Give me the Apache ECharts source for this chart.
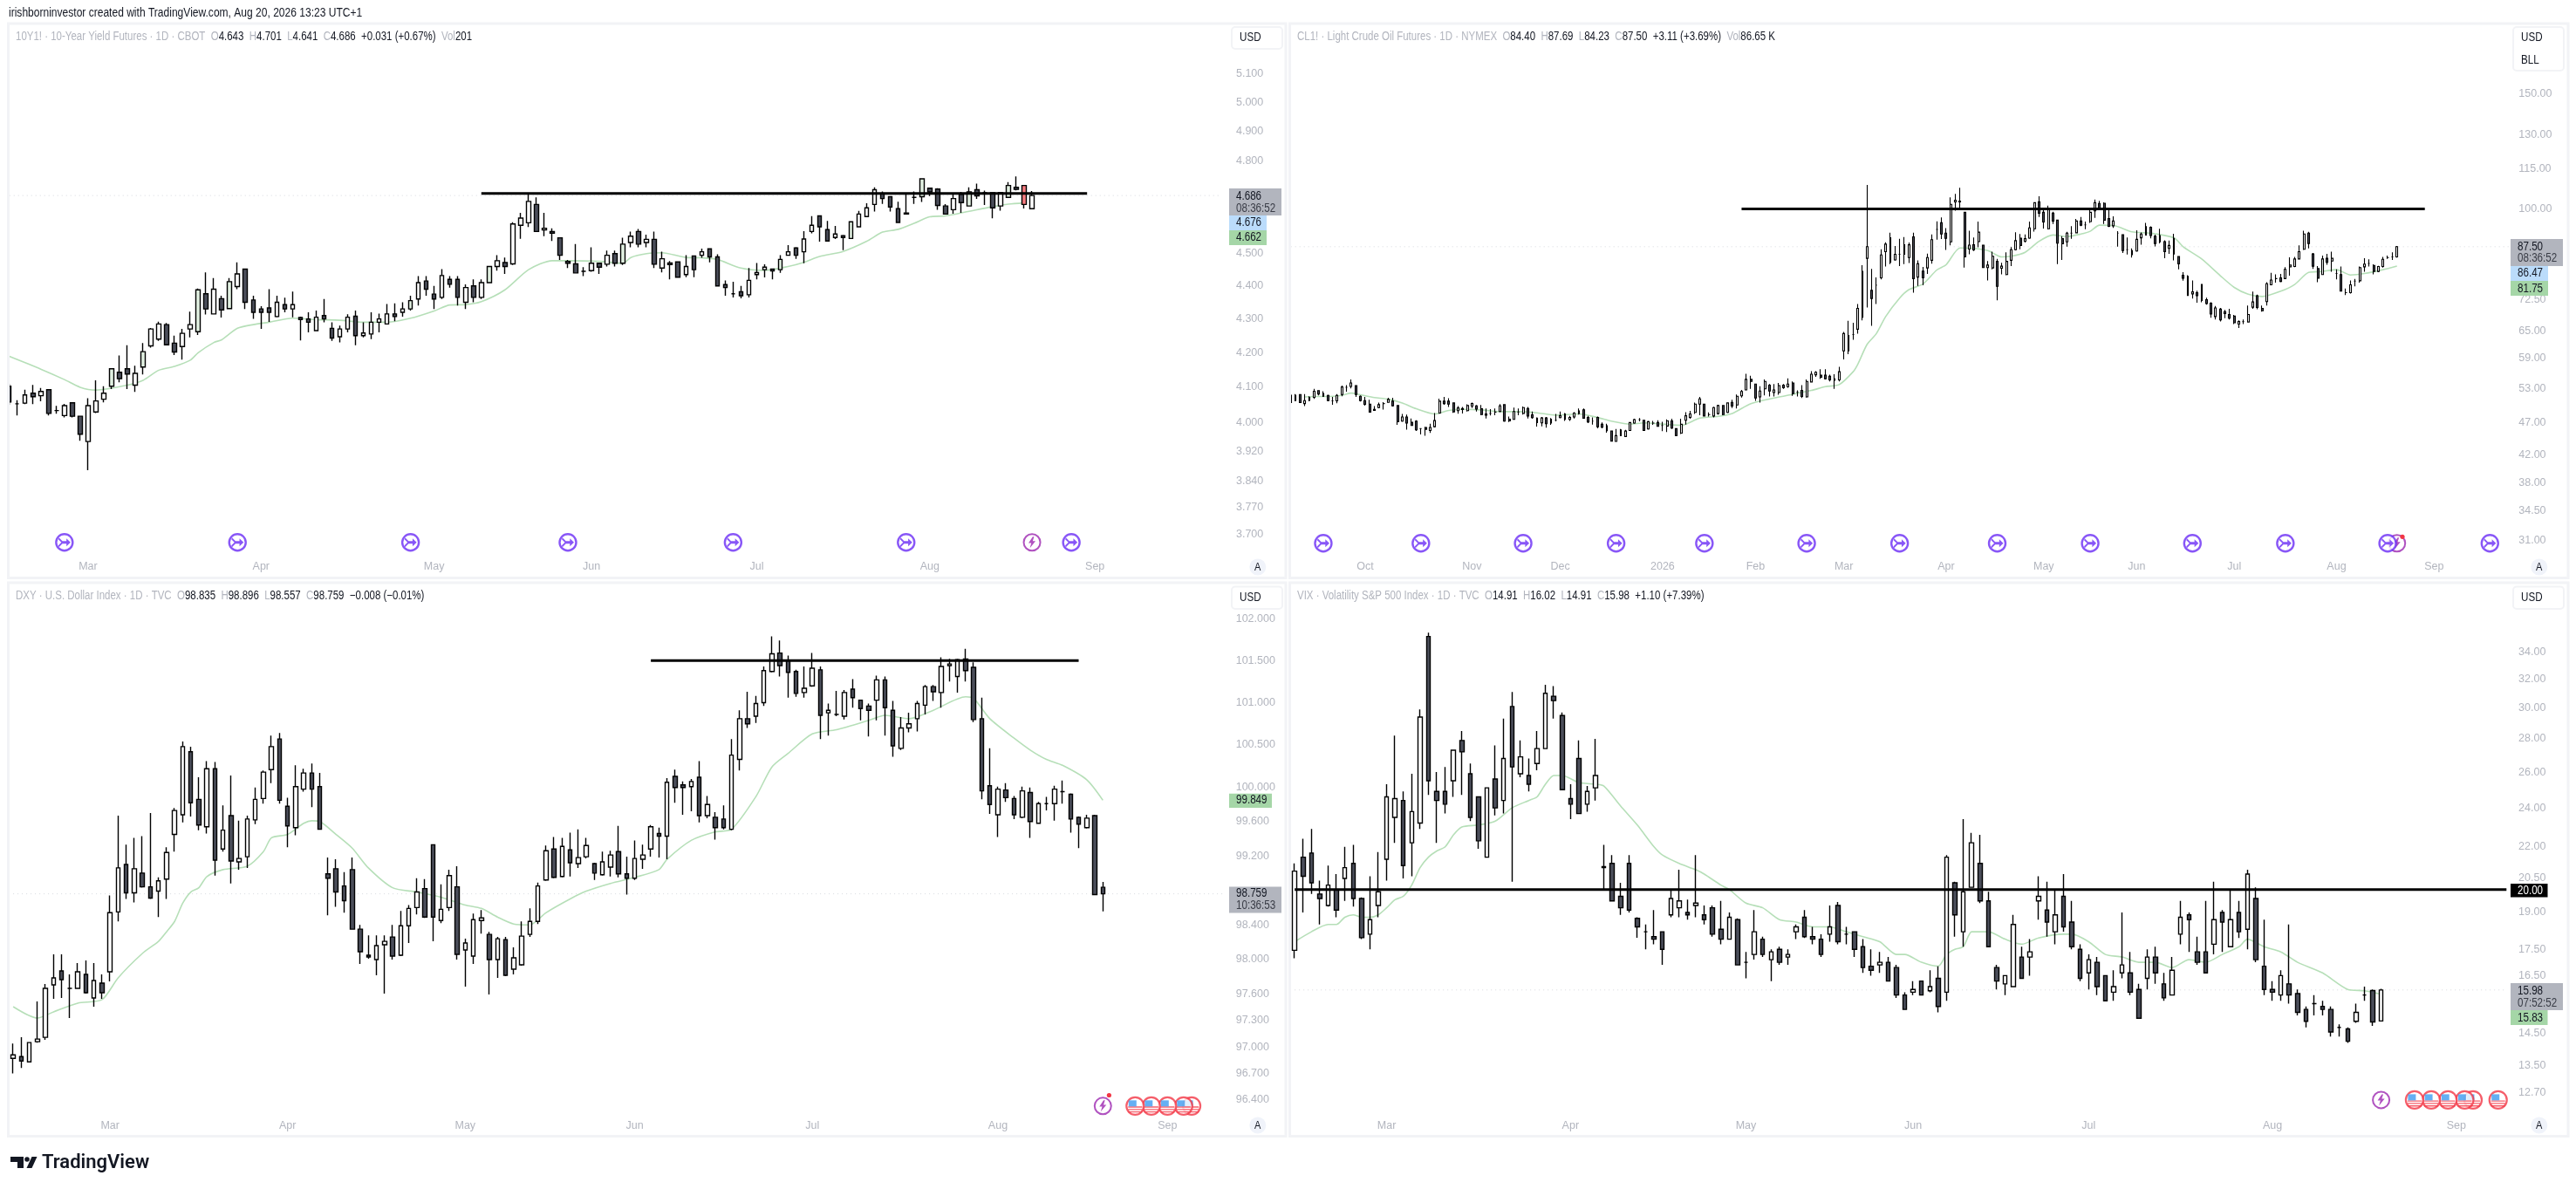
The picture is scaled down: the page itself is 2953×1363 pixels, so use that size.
<!DOCTYPE html>
<html><head><meta charset="utf-8">
<style>html,body{margin:0;padding:0;background:#fff}#c{width:2953px;height:1363px}</style>
<script src="https://cdn.jsdelivr.net/npm/echarts@6/dist/echarts.min.js"></script>
</head><body><div id="c"></div>
<script>
// ---------- values are [open, close, low, high] ----------
const yieldCandles=[[4.103,4.058,4.05,4.11],[4.053,4.053,4.02,4.063],[4.055,4.078,4.052,4.093],[4.083,4.073,4.052,4.107],[4.076,4.088,4.06,4.098],[4.093,4.026,4.02,4.094],[4.034,4.034,4.025,4.047],[4.02,4.048,4.015,4.053],[4.056,4.018,4.015,4.057],[4.018,3.968,3.95,4.018],
[3.948,4.048,3.87,4.069],[4.03,4.061,4.027,4.12],[4.066,4.083,4.057,4.103],[4.103,4.153,4.095,4.153],[4.143,4.125,4.114,4.192],[4.153,4.138,4.095,4.222],[4.106,4.14,4.087,4.162],[4.158,4.203,4.137,4.228],[4.22,4.27,4.215,4.273],[4.24,4.285,4.235,4.292],
[4.283,4.223,4.223,4.288],[4.228,4.202,4.193,4.25],[4.218,4.257,4.18,4.27],[4.27,4.283,4.245,4.322],[4.262,4.388,4.252,4.392],[4.376,4.33,4.313,4.442],[4.315,4.39,4.315,4.424],[4.361,4.327,4.304,4.37],[4.331,4.413,4.331,4.424],[4.398,4.437,4.39,4.473],
[4.452,4.35,4.33,4.452],[4.357,4.32,4.3,4.37],[4.33,4.32,4.27,4.338],[4.333,4.32,4.291,4.39],[4.307,4.35,4.305,4.37],[4.343,4.33,4.32,4.364],[4.33,4.343,4.305,4.383],[4.304,4.298,4.236,4.307],[4.3,4.29,4.26,4.32],[4.265,4.305,4.265,4.325],
[4.31,4.3,4.29,4.36],[4.272,4.243,4.235,4.29],[4.247,4.27,4.23,4.28],[4.27,4.305,4.26,4.314],[4.308,4.25,4.222,4.325],[4.25,4.258,4.245,4.29],[4.255,4.29,4.24,4.32],[4.29,4.3,4.26,4.316],[4.285,4.315,4.283,4.345],[4.315,4.307,4.293,4.347],
[4.32,4.33,4.307,4.35],[4.33,4.355,4.325,4.37],[4.36,4.41,4.34,4.43],[4.415,4.39,4.37,4.43],[4.375,4.36,4.33,4.4],[4.365,4.432,4.36,4.452],[4.42,4.405,4.395,4.43],[4.42,4.365,4.34,4.43],[4.35,4.395,4.33,4.405],[4.4,4.365,4.35,4.42],
[4.365,4.41,4.36,4.42],[4.41,4.46,4.41,4.46],[4.46,4.478,4.447,4.495],[4.472,4.46,4.437,4.488],[4.468,4.594,4.465,4.6],[4.59,4.613,4.547,4.63],[4.598,4.667,4.584,4.69],[4.657,4.57,4.57,4.68],[4.575,4.58,4.555,4.63],[4.57,4.565,4.54,4.58],
[4.55,4.495,4.48,4.55],[4.476,4.47,4.455,4.48],[4.468,4.44,4.44,4.53],[4.445,4.445,4.43,4.458],[4.447,4.47,4.444,4.52],[4.47,4.458,4.437,4.47],[4.467,4.495,4.46,4.51],[4.5,4.47,4.46,4.51],[4.47,4.53,4.465,4.55],[4.535,4.555,4.52,4.57],
[4.57,4.53,4.52,4.578],[4.535,4.545,4.52,4.56],[4.545,4.467,4.455,4.57],[4.455,4.484,4.442,4.506],[4.471,4.466,4.42,4.477],[4.474,4.427,4.425,4.476],[4.435,4.46,4.427,4.495],[4.493,4.45,4.427,4.493],[4.495,4.506,4.487,4.516],[4.515,4.49,4.473,4.515],
[4.49,4.4,4.4,4.498],[4.404,4.395,4.37,4.417],[4.376,4.376,4.365,4.413],[4.382,4.37,4.362,4.4],[4.373,4.417,4.365,4.455],[4.435,4.441,4.42,4.471],[4.45,4.458,4.426,4.467],[4.452,4.446,4.42,4.454],[4.45,4.482,4.44,4.495],[4.495,4.506,4.494,4.527],
[4.518,4.495,4.484,4.521],[4.506,4.546,4.47,4.571],[4.57,4.59,4.564,4.619],[4.62,4.585,4.538,4.62],[4.576,4.54,4.538,4.604],[4.551,4.562,4.546,4.588],[4.557,4.551,4.511,4.559],[4.548,4.601,4.548,4.603],[4.585,4.626,4.583,4.636],[4.618,4.646,4.618,4.661],
[4.657,4.705,4.634,4.713],[4.692,4.676,4.659,4.699],[4.682,4.649,4.634,4.682],[4.643,4.599,4.599,4.666],[4.629,4.626,4.626,4.692],[4.68,4.68,4.659,4.699],[4.682,4.741,4.665,4.741],[4.71,4.698,4.684,4.71],[4.707,4.654,4.64,4.71],[4.652,4.626,4.624,4.658],
[4.64,4.676,4.627,4.689],[4.69,4.663,4.63,4.698],[4.652,4.698,4.652,4.713],[4.705,4.685,4.675,4.725],[4.695,4.695,4.655,4.702],[4.695,4.646,4.612,4.695],[4.652,4.696,4.637,4.698],[4.68,4.719,4.68,4.73],[4.713,4.706,4.703,4.749],[4.719,4.657,4.644,4.72],[4.643,4.686,4.641,4.701]];
const yieldGreenBars=[13,17,24,28,51,61,78,98,107,116,122,127];
const yieldRedBars=[129];
const yieldAverage=[[0,4.189],[4,4.152],[7,4.122],[9,4.1],[11,4.092],[15,4.106],[17,4.12],[19,4.149],[21,4.16],[23,4.178],[24,4.2],[26,4.23],[27,4.238],[29,4.272],[31,4.283],[33,4.29],[36,4.302],[39,4.298],[42,4.296],[45,4.29],[48,4.29],[51,4.302],[54,4.324],[56,4.342],[58,4.343],[60,4.352],[63,4.388],[66,4.45],[69,4.478],[71,4.478],[75,4.476],[78,4.47],[79,4.488],[81,4.5],[83,4.503],[86,4.488],[88,4.487],[90,4.482],[93,4.455],[96,4.448],[99,4.46],[101,4.473],[103,4.491],[106,4.507],[109,4.539],[111,4.568],[113,4.577],[115,4.596],[117,4.617],[119,4.62],[122,4.635],[125,4.65],[127,4.658],[129,4.662]];
const yieldTrend=[[60,4.693],[137,4.693]];
const yieldTicks=[5.1,5.0,4.9,4.8,4.5,4.4,4.3,4.2,4.1,4.0,3.92,3.84,3.77,3.7];
const yieldMonths=[[10,'Mar'],[32,'Apr'],[54,'May'],[74,'Jun'],[95,'Jul'],[117,'Aug'],[138,'Sep']];
const yieldEvents=[7,29,51,71,92,114,135];
const yieldBolts=[130];
const yieldFlags=[];

const crudeCandles=[[50.5,51.8,50.4,52],[50.84,51.8,50.74,52.04],[51.94,50.48,50.4,51.98],[50.32,50.84,49.86,52.04],[50.9,51.42,50.74,51.62],[51.42,52.56,51.16,52.98],[52.66,52.04,51.78,52.77],[52.14,51.62,51.52,52.56],[51.78,50.84,50.74,51.9],[50.79,50.79,50.12,51.52],
[50.79,51.78,50.38,52.04],[51.94,53.34,51.62,53.6],[53.29,53.29,52.46,53.7],[53.44,54.12,53.08,54.8],[53.6,51.94,51.52,53.7],[51.62,50.84,50.69,51.78],[50.84,50.17,49.96,51.52],[50.22,48.82,48.76,51],[49.28,49.13,49.08,49.86],[49.6,50.12,49.49,50.48],
[50.32,50.32,49.28,50.58],[50.53,51.05,50.48,51.36],[50.74,49.91,49.8,51.36],[49.96,47.2,46.67,49.96],[47.3,48,47.2,48.5],[48,46.96,45.9,48.4],[47.1,46.58,46.5,47.75],[47.3,45.86,45.7,47.44],[46.05,46.05,45.14,46.14],[46.24,45.95,44.9,46.34],
[45.76,46.24,45.38,46.86],[46.38,47.39,46.24,48.64],[48.66,50.74,48.56,51.2],[50.74,50.32,50.12,51.52],[50.74,50.22,49.7,51.26],[50.43,48.87,48.7,50.48],[49.08,49.54,48.56,49.86],[49.44,49.28,48.6,49.7],[49.08,49.96,48.92,50.17],[49.86,50.32,49.54,50.48],
[49.91,49.34,48.92,50.06],[49.39,48.4,48.3,50.06],[48.5,48.3,47.73,49.44],[48.6,48.6,48.25,49.34],[48.82,48.82,48.3,49.44],[48.92,49.91,48.82,50.22],[50.12,47.3,47.2,50.2],[47.63,47.34,47.15,48.06],[47.58,48.92,47.54,49.6],[48.82,48.82,48.3,49.44],
[48.6,49.6,48.4,49.8],[49.44,48.16,47.73,49.7],[48.35,47.87,47.68,48.92],[47.78,47.06,46.38,47.92],[47,47.82,46.43,48],[47.82,46.86,46.2,48],[46.96,47.63,46.67,47.82],[47.44,47.44,47.25,48.5],[47.87,48.2,47.78,48.92],[48.5,47.58,47.34,48.66],
[47.58,47.92,47.34,48.16],[48,48.66,47.73,48.82],[48.56,49.02,48.4,49.44],[49.23,47.78,47.7,49.44],[47.92,47.15,46.96,48.16],[47.3,47.3,46.72,47.92],[47.92,46.38,46.1,48.06],[46.77,46.29,46.1,47.06],[46.53,45.71,45.42,46.86],[45.66,44.08,44,45.7],
[44.03,44.94,43.95,46],[45.86,44.94,44.85,46],[44.8,45.66,44.7,45.86],[45.76,47.06,45.7,47.1],[46.96,47.54,46.86,47.68],[47.54,47.54,47.25,47.82],[47.44,45.76,45.7,47.5],[46,47.2,45.9,47.34],[46.96,46.96,46.67,47.34],[47.06,46.43,46.34,47.44],
[46.58,46.58,45.66,47.2],[46.48,47.34,45.52,47.58],[47.34,46.14,46,47.68],[46.05,44.94,44.85,46.1],[45.33,46.77,45.18,47.68],[47.44,48.2,46.72,48.82],[47.92,48.5,47.68,49.02],[48.76,50.22,48.5,50.48],[50.22,51.16,48.3,51.52],[50.22,48.16,48.1,50.3],
[48.4,48.4,48.06,48.76],[48.16,49.6,47.92,49.75],[48.56,49.96,48.4,50.12],[49.96,48.4,48.3,50.06],[48.76,50.43,48.66,50.48],[50.53,49.86,49.54,51],[50.06,51.62,49.44,51.94],[51.7,52.5,51.4,52.8],[52.8,54.8,52.7,55.9],[54.8,54.4,53,55.5],
[53.9,51.3,50.8,54],[51.5,52.6,50.5,53.5],[53,54.4,51.8,54.8],[53.7,52.6,51.6,53.9],[52.3,52.8,51.6,53.9],[52.3,53.6,51.9,54.1],[53.7,53.2,53,53.9],[53.4,53.9,53.2,55],[54.1,52.1,51.7,54.4],[52.4,52.4,51.6,52.7],
[52.7,51.6,51.3,53.7],[51.5,54.4,51.4,54.8],[54.3,55.8,54.2,56.4],[55.7,56.2,55.3,56.4],[55.6,55.2,54.9,56.8],[55.6,54.9,54.8,56.8],[55.4,54.7,54.4,55.7],[54.9,54.6,53,55.8],[54.7,56.3,54.4,57.3],[60.6,64.4,58.8,64.8],
[60.6,64,59.9,67.4],[64.2,64.2,63,66.9],[65.4,70.4,64.4,71.5],[68.2,80.2,67.5,82],[84,87.5,70.6,108.8],[75,72.9,66.2,80.9],[76.4,76.4,71.5,78.5],[78.4,85,78,86.7],[86,88.3,81.6,88.9],[90.3,82.8,82.3,91.9],
[83.5,85.2,83.3,87.7],[85.2,85.2,81.7,90],[85.2,88.1,82.3,90.5],[84.2,88.1,82.6,88.8],[90.6,78.2,74.4,91.9],[78.6,82.4,76.2,83.4],[80.3,78.4,76.4,81.5],[81.2,84.2,79.5,85.4],[83.4,89.7,82.4,91.4],[93,93,89.7,95.7],
[95.2,91.5,89.9,97],[91.8,90.1,86.5,93.4],[89,101.6,87.9,104.1],[102.5,103.1,99.4,105.4],[102.8,102.5,99.7,107.7],[98.8,84.4,81.3,99],[86.8,88,85.2,92.6],[88.1,86.5,86.2,90.4],[89.1,92.1,87.3,95.6],[88,81.3,81.3,88],
[81.3,82,77.7,83.2],[81.2,84.6,80.8,86],[83.1,76.1,72.4,83.8],[81.1,81.7,79.4,82.7],[79.3,83.1,79.1,85.8],[83.4,86.6,81.7,87.4],[86.6,89.4,86.4,92.1],[90.2,87.9,86.7,91.5],[89.2,90,88.8,91.4],[90.2,93.5,90,95.6],
[93.2,102.2,92.3,102.4],[102.5,98.5,97.2,104.5],[98.8,95.5,93.3,99.6],[93.2,100,93,101.1],[98.5,95.8,94.8,99],[96.1,88.6,82.3,96.3],[90,88.4,83.5,90.8],[89,91.8,87.5,92.2],[91.8,91.8,90,94.1],[91.9,95.8,91.7,96.5],
[95.8,94.4,94.1,97.2],[94.5,94.5,93.1,95.6],[95.6,98.8,95.2,99.6],[99.3,102.2,96.9,103.3],[101.9,100.2,100,102.9],[102,96.1,94.8,102.3],[96.6,94,93.8,99.8],[94.2,95.8,93.5,97.4],[91.8,91.8,87.5,92.4],[91.3,86.3,85.6,91.3],
[86.6,86.6,85.1,90.4],[86.3,85.1,84.2,87],[86.2,89.8,86,92.7],[90.3,91.5,88.1,92],[91.2,93.9,91.1,95.2],[93.7,91,90.1,94],[90.8,88.5,87.6,91.3],[89,91,88.5,93.2],[89.1,86,84,89.5],[87,87.9,85.3,89.4],
[90.1,85.3,83.4,91.6],[84.5,82.4,80.8,84.7],[79.1,78.3,77.6,80],[78.8,73.7,73.6,79.1],[74.1,74.6,72.9,77.7],[74.4,73.6,71.8,74.9],[76.6,72.4,71.9,76.7],[72.6,71.6,71.3,73.1],[71.7,69,68.1,71.9],[68.4,70.5,67.7,71],
[70.2,67.6,67.2,70.5],[69.6,69.1,68,70],[68.9,68,67.7,70.3],[68.5,66.9,66.6,68.8],[66.6,67.2,65.7,67.5],[67.2,67.2,66.6,67.7],[67.1,68.9,67,71.1],[70.7,72,70.3,74.7],[73.6,70.6,70.2,73.9],[70.4,69.8,69.6,71.1],
[72.1,76.8,71.1,77.2],[76.5,77.8,76.4,79.8],[78.2,78.2,77.1,79.4],[78.4,77.4,77.2,79.5],[78.2,80.8,78.1,81.4],[81.5,82,79,84.3],[81.6,83.8,81.4,84.4],[83.8,86,83.7,87.9],[86.7,91.5,86.5,92.6],[91.8,88.5,87,92.2],
[85.3,81.7,80.9,85.6],[81,78.3,77.2,81.7],[79.3,83.8,79.2,84.8],[84,82.8,82.1,85.3],[83.2,84,80.1,86],[79.6,79.6,78,80.8],[79.3,74.8,74.7,81.6],[74.4,74.4,73.8,75.5],[74.4,76.5,74.2,77.7],[77.5,77.5,76.1,78.1],
[77.6,81.3,77.1,81.6],[81.5,82.3,80.1,84],[82.5,82.5,81.6,83.7],[81.9,80.2,79.4,82.2],[80.2,81.6,80,81.8],[81.6,83.7,81.3,84.4],[84.2,84.2,83.8,84.8],[84.4,84.4,83.5,85.8],[84.4,87.5,84.23,87.69]];
const crudeAverage=[[3,51.5],[5,51.6],[8,51.6],[11,51.8],[13,52.2],[15,51.9],[18,51.4],[21,51.1],[24,50.4],[27,49.4],[31,48.5],[34,49.1],[37,49.3],[41,49.2],[45,48.9],[49,48.9],[53,48.7],[57,48.3],[62,48.5],[66,47.9],[69,47.3],[73,46.8],[76,47],[80,46.8],[84,46.6],[88,47.8],[92,48.1],[95,48.6],[99,50.3],[104,51.3],[108,52],[112,52.7],[115,53.4],[118,53.8],[121,56.3],[122,57.8],[124,62],[126,64.4],[128,68.4],[131,73],[133,75.2],[136,76.7],[139,80.6],[141,82.1],[144,87.1],[147,87],[150,86.3],[153,84.4],[155,84.6],[158,85.8],[161,89.2],[164,91.2],[167,90.7],[170,91.5],[172,92.4],[174,94.4],[177,94.3],[181,92.2],[185,91.8],[190,90.3],[192,87.5],[196,83.8],[200,79],[203,75.8],[206,74],[209,73.4],[213,74.8],[216,76.6],[219,79.9],[222,80.2],[225,80.7],[228,79.2],[231,79.6],[235,80.7],[238,81.75]];
const crudeTrend=[[97,100],[244,100]];
const crudeTicks=[150,130,115,100,72.5,65,59,53,47,42,38,34.5,31];
const crudeMonths=[[16,'Oct'],[39,'Nov'],[58,'Dec'],[80,'2026'],[100,'Feb'],[119,'Mar'],[141,'Apr'],[162,'May'],[182,'Jun'],[203,'Jul'],[225,'Aug'],[246,'Sep']];
const crudeEvents=[7,28,50,70,89,111,131,152,172,194,214,236,258];
const crudeBolts=[238];
const crudeFlags=[];

const dollarCandles=[[96.87,96.91,96.7,97.04],[96.89,96.84,96.76,97.11],[96.83,97.05,96.83,97.05],[97.06,97.09,97.05,97.52],[97.11,97.67,97.08,97.72],[97.71,97.79,97.55,98.06],[97.87,97.77,97.56,98.06],[97.67,97.67,97.33,97.83],[97.67,97.86,97.67,97.96],[97.83,97.62,97.61,97.99],
[97.56,97.76,97.46,97.96],[97.73,97.62,97.55,97.83],[97.86,98.54,97.75,98.74],[98.55,99.06,98.44,99.67],[99.1,98.77,98.7,99.33],[98.77,99.05,98.66,99.41],[99,98.84,98.83,99.43],[98.84,98.71,98.7,99.7],[98.79,98.91,98.49,98.95],[98.93,99.24,98.7,99.3],
[99.45,99.73,99.25,99.76],[99.68,100.48,99.59,100.54],[100.42,99.82,99.66,100.48],[99.86,99.56,99.5,100.12],[99.54,100.22,99.46,100.31],[100.22,99.15,98.97,100.3],[99.28,99.5,99.25,99.79],[99.67,99.14,98.88,100.14],[99.13,99.17,99.04,99.61],[99.19,99.63,99.06,99.67],
[99.62,99.86,99.57,100],[99.87,100.18,99.81,100.2],[100.21,100.48,100.05,100.61],[100.57,99.85,99.81,100.64],[99.78,99.55,99.3,99.88],[99.53,100.01,99.44,100.26],[99.98,100.17,99.95,100.22],[100.17,99.98,99.77,100.28],[100.01,99.51,99.51,100.17],[98.99,98.94,98.51,99.18],
[99.05,98.78,98.61,99.16],[98.85,98.68,98.54,99.01],[99.04,98.35,98.35,99.18],[98.35,98.09,97.95,98.4],[98.05,98.03,98.01,98.28],[98,98.16,97.82,98.28],[98.17,98.21,97.61,98.28],[98.26,98.04,98,98.4],[98.05,98.39,98.04,98.56],[98.39,98.59,98.19,98.63],
[98.6,98.78,98.52,98.94],[98.82,98.49,98.48,98.93],[99.33,98.49,98.21,99.33],[98.45,98.58,98.42,98.87],[98.6,98.97,98.56,99.04],[98.84,98.06,98,99.08],[98.11,98.19,97.69,98.24],[98.04,98.46,97.95,98.53],[98.45,98.48,98.3,98.57],[98.29,98,97.6,98.32],
[98,98.24,97.79,98.26],[98.23,97.82,97.81,98.26],[97.89,98.02,97.83,98.14],[97.94,98.27,97.93,98.44],[98.29,98.44,98.26,98.59],[98.44,98.85,98.41,98.89],[98.92,99.26,98.91,99.32],[99.28,98.95,98.94,99.42],[98.96,99.31,98.95,99.41],[99.27,99.12,98.96,99.47],
[99.11,99.18,99.06,99.51],[99.19,99.32,99.17,99.41],[99.11,99,98.92,99.12],[98.98,99.13,98.97,99.25],[99.07,99.21,98.96,99.26],[99.25,98.99,98.95,99.55],[98.99,98.94,98.75,99.19],[98.94,99.17,98.92,99.38],[99.16,99.21,99.05,99.33],[99.28,99.54,99.19,99.56],
[99.46,99.43,99.18,99.53],[99.43,100.06,99.16,100.11],[100.13,100,99.82,100.21],[100.03,100,99.68,100.07],[100.01,100.07,99.72,100.1],[100.12,99.67,99.59,100.31],[99.67,99.8,99.64,99.9],[99.65,99.53,99.39,99.71],[99.63,99.53,99.51,99.79],[99.51,100.38,99.5,100.57],
[100.33,100.81,100.2,100.91],[100.81,100.75,100.7,101.13],[100.84,100.99,100.76,101.08],[101,101.38,100.96,101.43],[101.37,101.58,101.36,101.79],[101.59,101.44,101.31,101.74],[101.5,101.36,101.06,101.56],[101.37,101.11,101.07,101.39],[101.12,101.17,101.06,101.43],[101.2,101.41,101.19,101.59],
[101.39,100.85,100.57,101.43],[100.88,100.91,100.61,100.99],[100.86,100.86,100.84,101.14],[100.84,101.12,100.8,101.15],[101.16,101.06,100.94,101.28],[101.03,100.93,100.79,101.03],[100.96,100.91,100.6,100.99],[101.03,101.27,100.79,101.32],[101.27,100.94,100.61,101.31],[100.91,100.49,100.36,101.02],
[100.46,100.7,100.44,100.83],[100.7,100.75,100.65,100.88],[100.81,100.99,100.66,101.02],[100.97,101.19,100.86,101.21],[101.19,101.13,101.02,101.21],[101.12,101.43,100.94,101.54],[101.44,101.46,101.25,101.52],[101.31,101.51,101.12,101.52],[101.52,101.38,101.25,101.64],[101.42,100.8,100.77,101.48],
[100.81,99.96,99.86,101.06],[100.02,99.8,99.69,100.46],[99.68,99.98,99.42,100.01],[99.97,99.88,99.83,100.05],[99.87,99.68,99.63,99.9],[99.65,99.96,99.64,100.01],[99.94,99.6,99.41,100],[99.58,99.81,99.58,99.83],[99.81,99.81,99.73,99.89],[99.81,99.98,99.61,100.02],
[99.95,99.95,99.81,100.08],[99.92,99.63,99.47,99.93],[99.65,99.57,99.29,99.66],[99.53,99.64,99.52,99.68],[99.67,98.75,98.75,99.68],[98.835,98.759,98.557,98.896]];
const dollarAverage=[[0,97.46],[3,97.33],[5,97.4],[8,97.5],[11,97.54],[13,97.79],[16,98.07],[18,98.21],[19,98.32],[20,98.44],[21,98.65],[22,98.78],[23,98.83],[24,98.96],[26,99.04],[29,99.08],[31,99.25],[32,99.41],[34,99.45],[36,99.58],[37,99.61],[38,99.6],[40,99.45],[42,99.29],[44,99.06],[47,98.83],[50,98.78],[53,98.72],[56,98.63],[58,98.59],[60,98.49],[62,98.41],[64,98.4],[66,98.54],[69,98.7],[71,98.79],[74,98.88],[77,98.95],[80,99.04],[81,99.16],[84,99.38],[87,99.48],[89,99.51],[92,99.89],[94,100.24],[96,100.4],[99,100.63],[102,100.68],[106,100.79],[108,100.85],[111,100.81],[114,100.91],[118,101.07],[119,101.05],[121,100.81],[124,100.58],[126,100.44],[128,100.33],[130,100.26],[133,100.09],[135,99.85]];
const dollarTrend=[[79,101.5],[132,101.5]];
const dollarTicks=[102,101.5,101,100.5,100,99.6,99.2,98.4,98,97.6,97.3,97,96.7,96.4];
const dollarMonths=[[12,'Mar'],[34,'Apr'],[56,'May'],[77,'Jun'],[99,'Jul'],[122,'Aug'],[143,'Sep']];
const dollarEvents=[];
const dollarBolts=[135];
const dollarFlags=[139,141,143,145,146];

const vixCandles=[[17.46,20.84,17.15,21.2],[21.5,20.6,19,22.4],[21.7,20.3,19.8,22.9],[19.8,19.6,18.5,20.4],[19.3,20.2,19.25,21.1],[20,19.1,18.8,20.7],[20.5,21,19.5,22],[21.2,19.6,19.25,22.1],[19.6,17.96,17.9,19.65],[18.1,18.7,17.5,20.6],
[19.3,19.9,18.8,21.75],[21.4,24.6,20.4,25.3],[23.5,24.5,22.2,28.2],[24.4,21.1,20.5,24.9],[22.2,23.8,20.6,25.9],[23.2,29.4,22.9,29.9],[35.2,25.5,24.7,35.5],[24.9,24.4,22.2,26],[24.9,24.2,23.7,26.3],[25.5,27.3,24.6,27.3],
[27.9,27.2,24.7,28.5],[25.9,23.5,23.3,26.5],[24.6,22.3,21.9,24.6],[21.5,25.1,21.5,25.1],[25.6,24,23.6,27.6],[24.4,26.8,23.7,29.3],[30.1,26.3,20.35,31.1],[25.9,26.9,25.7,27.9],[25.8,25.3,24.9,26.8],[26.5,27.4,26.1,28.5],
[27.4,31,27.4,31.6],[30.8,30.5,29.3,31.5],[29.5,25,25,29.7],[24.5,24.2,23.4,25.3],[26.8,23.7,23.7,27.9],[24.2,24.9,23.8,25.2],[25.1,25.8,24.4,28],[21.05,21,20,22.1],[21.2,19.5,19.5,21.6],[19.7,19.2,18.9,20.3],
[21.2,19.1,19,21.6],[18.75,18.4,17.96,18.8],[18.2,18.2,17.5,18.5],[18,17.9,17.7,19.1],[18.2,17.5,16.9,18.2],[18.9,19.6,18.8,20],[19.2,19.5,18.8,20.9],[19,18.9,18.7,19.55],[19.3,19.4,18.8,21.6],[18.9,18.7,18.5,19.3],
[19.2,18.1,18,19.3],[18.3,17.9,17.7,19.5],[17.9,18.8,17.9,19],[18.7,16.9,16.9,18.75],[17,17,16.4,17.4],[17.3,18.2,17.1,19.1],[17.9,17.3,17.2,18],[17.1,17.4,16.3,17.5],[17.5,17,16.9,17.6],[17.2,17.3,16.9,17.5],
[18.2,18.4,17.9,18.5],[18.8,18,17.95,19.1],[18,17.9,17.7,18.4],[17.9,17.3,17.2,18.1],[18.1,18.4,17.8,19.3],[19.3,17.8,17.7,19.45],[18.1,18.1,17.7,18.4],[18.2,17.5,17.2,18.2],[17.6,16.8,16.6,17.9],[16.85,16.7,16.5,17.5],
[16.9,17,16.6,17.4],[17,16.3,16.3,17.2],[16.8,15.8,15.7,16.9],[15.8,15.3,15.3,15.9],[15.9,16,15.8,16.3],[16.3,15.8,15.8,16.3],[15.95,16.1,15.9,16.7],[16.4,15.4,15.2,16.85],[15.9,21.5,15.6,21.6],[20.3,18.9,18,20.35],
[18.2,19.9,17.6,23.4],[20.1,22.2,20.1,22.7],[21.2,19.5,19.4,22.6],[19.5,17.6,17.6,19.9],[16.8,16.3,16,16.9],[16.2,16.5,15.8,16.5],[16.1,18.5,16.1,18.9],[17.2,16.4,16.4,17.6],[17.2,17.4,16.5,17.9],[19.5,19.7,18.7,20.6],
[19.1,18.6,18,20.35],[18.2,18.9,17.7,20],[19.7,18.4,18.2,20.7],[18.6,17.6,17.5,19.5],[17.5,16.4,16.3,17.7],[16.6,17.1,16,17.3],[17,16.1,15.8,17.2],[16.5,15.6,15.6,16.5],[15.9,16.1,15.6,16.7],[16.6,16.9,16.4,19],
[16.6,15.9,15.8,17.4],[16,15,15,16.2],[16.4,17.2,16,17.5],[17.2,16.6,16.2,17.6],[16.2,15.7,15.6,16.6],[15.8,16.7,15.8,17.2],[18.1,18.8,17.7,19.5],[18.9,18.7,17.4,19],[17.4,17,16.9,18],[17.4,16.6,16.6,19.5],
[17.7,18.7,17.3,20.35],[19,18.6,17.4,19.1],[17.6,18.7,17.6,20],[19,18.2,17.95,19.5],[18.3,20.7,17.5,20.9],[19.6,17.1,17,20.1],[16.85,16,15.8,18.7],[16,15.9,15.6,16.3],[15.8,16.5,15.6,16.7],[16.2,15.8,15.5,18.5],
[15.85,15.2,15.1,16],[15.3,14.9,14.7,15.4],[15.5,15.5,15.1,15.8],[15.4,15.3,15.1,15.6],[15.3,14.55,14.4,15.4],[14.7,14.7,14.4,14.8],[14.65,14.25,14.2,14.7],[14.9,15.2,14.85,15.5],[15.8,15.8,15.6,16.1],[15.96,14.88,14.75,16],[14.91,15.98,14.91,16.02]];
const vixAverage=[[0,17.8],[2,18.2],[4,18.5],[5,18.5],[6,18.8],[7,18.9],[8,18.8],[9,18.8],[10,18.9],[11,19.2],[12,19.55],[13,19.7],[14,20.2],[15,21],[16,21.5],[17,21.8],[18,22],[19,22.6],[20,23],[22,23.1],[24,23.3],[26,24],[28,24.4],[29,24.6],[30,25.3],[31,25.8],[32,25.8],[34,25.4],[36,25.3],[37,25.2],[39,24.1],[41,23.1],[43,22],[44,21.6],[46,21.2],[48,20.9],[49,20.7],[51,20.2],[52,20],[54,19.4],[56,19.2],[58,18.7],[60,18.6],[62,18.4],[64,18.4],[66,18.2],[68,18],[70,17.8],[72,17.3],[73,17.3],[75,17],[77,16.85],[78,17.3],[79,17.5],[80,17.6],[81,18.2],[82,18.2],[83,18.2],[85,17.9],[87,17.7],[89,17.95],[92,18.1],[93,18.1],[95,17.8],[97,17.3],[99,17.2],[101,17],[103,17],[105,16.8],[107,17.1],[109,17],[111,17.3],[113,17.6],[114,17.9],[116,17.6],[118,17.4],[120,17],[123,16.6],[126,16],[128,15.95],[130,15.83]];
const vixTrend=[[0,20],[145,20]];
const vixTicks=[34,32,30,28,26,24,22,20.5,19,17.5,16.5,14.5,13.5,12.7];
const vixMonths=[[11,'Mar'],[33,'Apr'],[54,'May'],[74,'Jun'],[95,'Jul'],[117,'Aug'],[139,'Sep']];
const vixEvents=[];
const vixBolts=[130];
const vixFlags=[134,136,138,140,141,144];

// ---------- styles ----------
const FONT='"Liberation Sans",sans-serif';
const GRAY='#b2b5be', INK='#131722';
const ARROW='path://M1 6L6 10H12V7L18 11.5L12 16V13H6L1 17L0 15L4.5 11.5L0 8Z';
const BOLT='path://M7 0L1 10H5L3 18L11 7H7L9 0Z';
const STRIPES='path://M0 0H20V2.4H0ZM0 4.6H20V7H0ZM0 9.2H20V11.6H0Z';

const panels=[
 {candles:yieldCandles,avg:yieldAverage,trend:yieldTrend,ticks:yieldTicks,months:yieldMonths,events:yieldEvents,bolts:yieldBolts,flags:yieldFlags,
  left:6.2,step:9.018,n:155,top:30,bottom:637,min:3.646,max:5.273,dec:3,margin:13,last:4.686,level:3.68,bar:5,
  green:yieldGreenBars,red:yieldRedBars},
 {candles:crudeCandles,avg:crudeAverage,trend:crudeTrend,ticks:crudeTicks,months:crudeMonths,events:crudeEvents,bolts:crudeBolts,flags:crudeFlags,
  left:1477,step:5.328,n:263,top:30,bottom:637,min:29.42,max:190.5,dec:2,margin:9,last:87.5,level:30.74,bar:2.4,green:[],red:[]},
 {candles:dollarCandles,avg:dollarAverage,trend:dollarTrend,ticks:dollarTicks,months:dollarMonths,events:dollarEvents,bolts:dollarBolts,flags:dollarFlags,
  left:10.5,step:9.253,n:151,top:672,bottom:1278,min:96.23,max:102.39,dec:3,margin:9,last:98.759,level:96.33,bar:5,green:[],red:[]},
 {candles:vixCandles,avg:vixAverage,trend:vixTrend,ticks:vixTicks,months:vixMonths,events:vixEvents,bolts:vixBolts,flags:vixFlags,
  left:1479.4,step:9.58,n:146,top:672,bottom:1278,min:12.09,max:39.38,dec:2,margin:9,last:15.98,level:12.5,bar:5,green:[],red:[]}
];

const grid=[],xAxis=[],yAxis=[],series=[];
panels.forEach((p,i)=>{
  grid.push({left:p.left,top:p.top,width:p.step*p.n,height:p.bottom-p.top});
  const cats=new Array(p.n).fill('');
  p.months.forEach(m=>cats[m[0]]=m[1]);
  xAxis.push({type:'category',gridIndex:i,data:cats,boundaryGap:true,axisLine:{show:false},axisTick:{show:false},splitLine:{show:false},
    axisLabel:{interval:0,hideOverlap:false,color:GRAY,fontFamily:FONT,fontSize:12.5,fontWeight:500,margin:6}});
  yAxis.push({type:'log',logBase:10,gridIndex:i,position:'right',min:p.min,max:p.max,axisLine:{show:false},axisTick:{show:false},splitLine:{show:false},
    axisLabel:{customValues:p.ticks,hideOverlap:false,color:GRAY,fontFamily:FONT,fontSize:12.5,margin:p.margin,showMinLabel:true,showMaxLabel:true,formatter:v=>(+v).toFixed(p.dec)}});
  const base={xAxisIndex:i,yAxisIndex:i,silent:true,animation:false};
  series.push(Object.assign({},base,{type:'line',name:'last'+i,data:[[0,p.last],[p.n-1,p.last]],showSymbol:false,lineStyle:{color:'#d6d8de',width:1,type:[1,4]},z:1}));
  series.push(Object.assign({},base,{type:'line',name:'avg'+i,data:p.avg,showSymbol:false,smooth:0.25,lineStyle:{color:'#b6dfb8',width:1.6},z:2}));
  series.push(Object.assign({},base,{type:'candlestick',name:'c'+i,barWidth:p.bar,z:3,
    itemStyle:{color:'#ffffff',color0:'#4b4e5a',borderColor:'#000',borderColor0:'#000',borderWidth:p.bar<3?1.1:1.4},
    data:p.candles.map((v,k)=>{
      if(p.green.includes(k))return {value:v,itemStyle:{color:'#e2f1e2',color0:'#e2f1e2'}};
      if(p.red.includes(k))return {value:v,itemStyle:{color:'#f77c80',color0:'#f77c80'}};
      return v;})}));
  series.push(Object.assign({},base,{type:'line',name:'trend'+i,data:p.trend,showSymbol:false,lineStyle:{color:'#000',width:3},z:4}));
  const pts=a=>a.map(x=>[x,p.level]);
  if(p.events.length){
    series.push(Object.assign({},base,{type:'scatter',data:pts(p.events),symbol:'circle',symbolSize:19,itemStyle:{color:'#fff',borderColor:'#6a2cf5',borderWidth:2.4},z:5}));
    series.push(Object.assign({},base,{type:'scatter',data:pts(p.events),symbol:ARROW,symbolSize:[14,11],itemStyle:{color:'#6a2cf5'},z:6}));
  }
  series.push(Object.assign({},base,{type:'scatter',data:pts(p.bolts),symbol:'circle',symbolSize:19,itemStyle:{color:'#fff',borderColor:'#9c27b0',borderWidth:2},z:4.5}));
  series.push(Object.assign({},base,{type:'scatter',data:pts(p.bolts),symbol:BOLT,symbolSize:[8,13],itemStyle:{color:'#9c27b0'},z:4.6}));
  p.flags.slice().reverse().forEach((f,k)=>{
    const z=5+k*0.01;
    series.push(Object.assign({},base,{type:'scatter',data:pts([f]),symbol:'circle',symbolSize:20,itemStyle:{color:'#fff',borderColor:'#f23645',borderWidth:2.2},z:z}));
    series.push(Object.assign({},base,{type:'scatter',data:pts([f]),symbol:STRIPES,symbolSize:[16,7],symbolOffset:[0,4],itemStyle:{color:'#f23645'},z:z+0.001}));
    series.push(Object.assign({},base,{type:'scatter',data:pts([f]),symbol:'rect',symbolSize:[9,7],symbolOffset:[-3,-3],itemStyle:{color:'#3d9bf0'},z:z+0.002}));
  });
});

// ---------- decoration ----------
const g=[];
const rich={g:{fill:GRAY,fontFamily:FONT,fontSize:14},b:{fill:INK,fontFamily:FONT,fontSize:14}};
function legend(x,y,parts){g.push({type:'text',x:x,y:y,scaleX:0.82,z:50,style:{text:parts,rich:rich,verticalAlign:'middle',align:'left'}});}
function txt(x,y,t,fill,sx){g.push({type:'text',x:x,y:y,scaleX:sx||0.83,z:52,style:{text:t,fill:fill||INK,fontFamily:FONT,fontSize:14,verticalAlign:'middle',align:'left'}});}
function box(x0,y0,x1,y1,fill,r){g.push({type:'rect',z:51,shape:{x:x0,y:y0,width:x1-x0,height:y1-y0,r:r||0},style:{fill:fill}});}
function frame(x0,y0,x1,y1){g.push({type:'rect',z:49,shape:{x:x0,y:y0,width:x1-x0,height:y1-y0},style:{fill:'none',stroke:'#f2f3f6',lineWidth:3}});}
function tagBtn(x0,y0,x1,y1,lines){g.push({type:'rect',z:51,shape:{x:x0,y:y0,width:x1-x0,height:y1-y0,r:4},style:{fill:'#fff',stroke:'#f2f3f6',lineWidth:2}});lines.forEach(l=>txt(x0+9,l[0],l[1]));}
function auto(x,y){g.push({type:'circle',z:51,shape:{cx:x,cy:y,r:9.5},style:{fill:'#f0f3fa'}});g.push({type:'text',x:x,y:y,z:52,scaleX:0.85,style:{text:'A',fill:INK,fontFamily:FONT,fontSize:13,align:'center',verticalAlign:'middle'}});}

box(0,0,8,1363,'#fff');
frame(9.5,27,1474,662.5);frame(1478.5,27,2944,662.5);frame(9.5,668,1474,1302.5);frame(1478.5,668,2944,1302.5);
txt(10,15,'irishborninvestor created with TradingView.com, Aug 20, 2026 13:23 UTC+1',INK,0.86);
legend(18,42,'{g|10Y1! · 10-Year Yield Futures · 1D · CBOT  O}{b|4.643}{g|  H}{b|4.701}{g|  L}{b|4.641}{g|  C}{b|4.686}{b|  +0.031 (+0.67%)}{g|  Vol}{b|201}');
legend(1487,42,'{g|CL1! · Light Crude Oil Futures · 1D · NYMEX  O}{b|84.40}{g|  H}{b|87.69}{g|  L}{b|84.23}{g|  C}{b|87.50}{b|  +3.11 (+3.69%)}{g|  Vol}{b|86.65 K}');
legend(18,683,'{g|DXY · U.S. Dollar Index · 1D · TVC  O}{b|98.835}{g|  H}{b|98.896}{g|  L}{b|98.557}{g|  C}{b|98.759}{b|  −0.008 (−0.01%)}');
legend(1487,683,'{g|VIX · Volatility S&P 500 Index · 1D · TVC  O}{b|14.91}{g|  H}{b|16.02}{g|  L}{b|14.91}{g|  C}{b|15.98}{b|  +1.10 (+7.39%)}');

tagBtn(1412,31,1470,56,[[43.5,'USD']]);
tagBtn(2881,31,2939,81,[[43.5,'USD'],[69.5,'BLL']]);
tagBtn(1412,672.5,1470,698,[[685.6,'USD']]);
tagBtn(2881,672.5,2939,698,[[685.6,'USD']]);

box(1409,216,1469,247,'#b2b5be');txt(1417,225,'4.686');txt(1417,239,'08:36:52','#3a3d47');
box(1409,247,1452,264,'#bbdcfb');txt(1417,255.5,'4.676');
box(1409,264,1452,281,'#a5d6a7');txt(1417,272.5,'4.662');
box(2878,274,2938,305,'#b2b5be');txt(2886,282.7,'87.50');txt(2886,296.6,'08:36:52','#3a3d47');
box(2878,305,2921,322,'#bbdcfb');txt(2886,313.5,'86.47');
box(2878,322,2921,339,'#a5d6a7');txt(2886,330.7,'81.75');
box(1409,909.8,1458,926,'#a5d6a7');txt(1417,917.4,'99.849');
box(1409,1016.5,1469,1046.5,'#b2b5be');txt(1417,1024.6,'98.759');txt(1417,1038.5,'10:36:53','#3a3d47');
box(2878,1013,2920.5,1028.6,'#000');txt(2886,1020.8,'20.00','#fff');
box(2878,1127,2938,1158,'#b2b5be');txt(2886,1135.8,'15.98');txt(2886,1149.7,'07:52:52','#3a3d47');
box(2878,1158,2920.5,1175,'#a5d6a7');txt(2886,1166.7,'15.83');

auto(1441.8,650);auto(2910.8,650);auto(1441.8,1290);auto(2910.8,1290);

g.push({type:'circle',z:60,shape:{cx:2754,cy:615.3,r:2.6},style:{fill:'#f23645'}});
g.push({type:'circle',z:60,shape:{cx:1271.4,cy:1255.5,r:2.6},style:{fill:'#f23645'}});

// logo
g.push({type:'polygon',z:50,shape:{points:[[12,1326],[27,1326],[27,1339],[20,1339],[20,1332],[12,1332]]},style:{fill:INK}});
g.push({type:'circle',z:50,shape:{cx:31,cy:1329,r:2.8},style:{fill:INK}});
g.push({type:'polygon',z:50,shape:{points:[[36.5,1326],[42.5,1326],[36.5,1339],[30.5,1339]]},style:{fill:INK}});
g.push({type:'text',x:48,y:1333,z:50,style:{text:'TradingView',fill:INK,fontFamily:'Roboto',fontWeight:600,fontSize:22,verticalAlign:'middle'}});

const chart=echarts.init(document.getElementById('c'),null,{renderer:'canvas',width:2953,height:1363});
chart.setOption({animation:false,backgroundColor:'#ffffff',grid,xAxis,yAxis,series,graphic:{elements:g}});
</script></body></html>
